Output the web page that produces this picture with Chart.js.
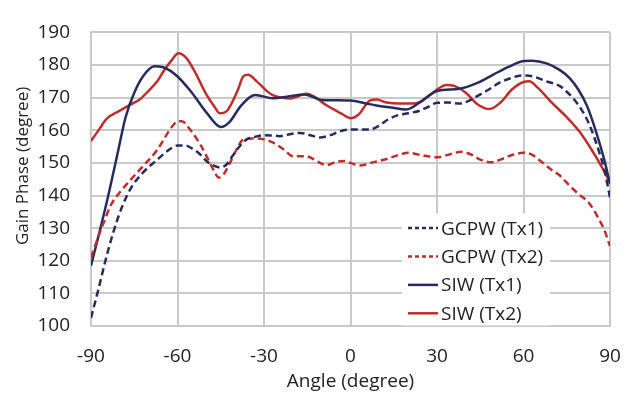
<!DOCTYPE html>
<html>
<head>
<meta charset="utf-8">
<script src="https://cdn.jsdelivr.net/npm/chart.js@4.4.1/dist/chart.umd.min.js"></script>
<style>
  html, body { margin: 0; padding: 0; background: #fff; }
  #wrap { width: 641px; height: 394px; }
</style>
</head>
<body>
<div id="wrap"><canvas id="phaseChart" width="641" height="394"></canvas></div>
<script>
// Angle (degree) / gain phase (degree) pairs
const gcpwTx1Angle = [-90, -87.5, -85, -82, -79, -76, -72, -67, -63, -60, -57, -55.7, -52, -49.9, -47, -45.3, -43, -41.8, -39, -36, -33, -30, -27, -24.5, -21, -17.5, -14, -10.6, -7, -3.6, 0, 6.7, 10, 13, 16, 20, 24, 27, 30, 34, 37.8, 41, 43.6, 48, 51.7, 55, 58.6, 61, 64.4, 68, 72.5, 75, 77.2, 80, 82.9, 86, 88, 90];
const gcpwTx1Phase = [102.5, 111, 120, 129.5, 137, 142.5, 147, 151, 154, 155.3, 155.3, 154.8, 152.5, 150.5, 149, 148.6, 149.5, 151, 154.5, 157.2, 158, 158.5, 158.4, 158.2, 158.8, 159.2, 158.5, 157.8, 158.5, 159.7, 160.2, 160.2, 161.5, 163.3, 164.5, 165.2, 166, 167.2, 168.4, 168.5, 168.2, 169, 170.3, 172.5, 174.6, 175.8, 176.7, 176.8, 176.2, 175, 173.6, 171.8, 169.8, 166.5, 161.6, 154, 148, 139.5];

const gcpwTx2Angle = [-90, -87, -85, -83.4, -80, -77.6, -73, -67.2, -62, -60, -58.5, -55.7, -52, -49.9, -47, -45.8, -44, -41.8, -39, -37.2, -34, -30, -26.8, -23, -19.8, -15.2, -11, -8.3, -5, -2, 0, 3.2, 7, 12.5, 17, 20, 24, 30, 34, 38.4, 42, 45, 48.8, 52, 56, 60, 63.2, 66, 70, 72.5, 76, 79, 82.9, 86, 88, 90];
const gcpwTx2Phase = [121, 128.5, 133, 136.6, 141, 143.5, 148, 153.8, 161, 162.7, 162.8, 160.3, 155.5, 152, 147, 145.5, 146.5, 150, 155, 157.2, 157.5, 157.2, 156.2, 154, 152, 152, 150.2, 149.3, 150.3, 150.6, 150, 149.2, 150, 151.2, 152.5, 153.1, 152.5, 151.7, 152.5, 153.4, 152.5, 151, 150.2, 151, 152.4, 153.1, 152.4, 150.5, 147.7, 146.2, 143, 140.5, 137.5, 133, 129.5, 124.5];

const siwTx1Angle = [-90, -87, -84, -81, -78, -75, -72, -68, -65, -60, -55, -50, -45, -42, -38, -33, -27, -22, -16, -10, -5, 0, 5, 9, 14, 19.4, 24, 30, 37.8, 44, 49.4, 55, 60, 63, 68, 72.5, 76, 79, 82, 85, 88, 90];
const siwTx1Phase = [118.5, 129, 140, 152, 164, 171.5, 176.5, 179.6, 179.3, 176.5, 171.5, 165.5, 161, 162.5, 167.5, 170.8, 169.8, 170.3, 171, 169.3, 169.2, 169.1, 168.3, 167.6, 167, 166.4, 168.5, 172, 172.7, 174.5, 177, 179.5, 181.2, 181.3, 180.5, 178.5, 176, 172.5, 167.5, 160, 151, 143.5];

const siwTx2Angle = [-90, -87, -84.6, -80, -76.5, -73, -70.7, -67, -64.9, -62, -59.7, -57, -54, -50, -47, -45.3, -43, -41.8, -39, -37.2, -35.5, -32.5, -29, -26.8, -24, -21, -18, -15.2, -12, -9.4, -5, -3, 0, 3, 6.7, 9, 12.5, 17, 22.8, 27, 30, 33.2, 36, 40, 44, 48.2, 52, 56, 60, 62, 65, 70, 75, 79.4, 84, 87, 90];
const siwTx2Phase = [156.7, 160.5, 163.5, 166, 167.8, 169.5, 171.5, 175, 178, 181.5, 183.6, 182.2, 178, 171, 167, 165.2, 165.8, 167.3, 172.5, 176.5, 177, 175, 172, 170.7, 170, 169.7, 170.5, 171.2, 170, 168.3, 166, 165, 163.7, 165, 169.1, 169.4, 168.5, 168.2, 168.3, 170.5, 172.5, 173.9, 173.6, 171.5, 168, 166.5, 168.5, 172.5, 174.8, 175, 173, 168.3, 164, 159.6, 153.5, 149, 144];

const seriesNames = ['GCPW (Tx1)', 'GCPW (Tx2)', 'SIW (Tx1)', 'SIW (Tx2)'];
const angleTicks = [-90, -60, -30, 0, 30, 60, 90];

const NAVY = '#272c5e';
const RED = '#be2f2c';
const GRID = '#c9c9c9';
const FONT = "'Open Sans', 'DejaVu Sans', sans-serif";

function toPoints(xs, ys) {
  return xs.map((x, i) => ({ x: x, y: ys[i] }));
}

// legend drawn inside the plot area on a white box, like the original
const insideLegend = {
  id: 'insideLegend',
  afterDraw: function(chart) {
    const ctx = chart.ctx;
    const area = chart.chartArea;
    const boxX = area.left + 311, boxY = area.top + 181;
    const boxW = 148, boxH = 112;
    ctx.save();
    ctx.fillStyle = '#fff';
    ctx.fillRect(boxX, boxY, boxW, boxH);
    ctx.font = '19px ' + FONT;
    ctx.textBaseline = 'middle';
    ctx.textAlign = 'left';
    chart.data.datasets.forEach((ds, i) => {
      const y = boxY + 14.7 + i * 28.4;
      ctx.beginPath();
      ctx.strokeStyle = ds.borderColor;
      ctx.lineWidth = 2.5;
      ctx.setLineDash(ds.borderDash && ds.borderDash.length ? [4, 3] : []);
      ctx.moveTo(boxX + 6, y);
      ctx.lineTo(boxX + 36, y);
      ctx.stroke();
      ctx.setLineDash([]);
      ctx.fillStyle = '#222';
      ctx.fillText(ds.label, boxX + 39, y + 1);
    });
    ctx.restore();
  }
};

const lineStyle = {
  fill: false,
  pointRadius: 0,
  borderWidth: 2.5,
  cubicInterpolationMode: 'monotone'
};

new Chart(document.getElementById('phaseChart').getContext('2d'), {
  type: 'line',
  data: {
    datasets: [
      Object.assign({ label: seriesNames[0], data: toPoints(gcpwTx1Angle, gcpwTx1Phase), borderColor: NAVY, borderDash: [7, 4] }, lineStyle),
      Object.assign({ label: seriesNames[1], data: toPoints(gcpwTx2Angle, gcpwTx2Phase), borderColor: RED, borderDash: [7, 4] }, lineStyle),
      Object.assign({ label: seriesNames[2], data: toPoints(siwTx1Angle, siwTx1Phase), borderColor: NAVY, borderDash: [] }, lineStyle),
      Object.assign({ label: seriesNames[3], data: toPoints(siwTx2Angle, siwTx2Phase), borderColor: RED, borderDash: [] }, lineStyle)
    ]
  },
  options: {
    responsive: false,
    animation: false,
    layout: { padding: { top: 15, right: 31, left: 0, bottom: 0 } },
    plugins: {
      legend: { display: false },
      tooltip: { enabled: false }
    },
    scales: {
      x: {
        type: 'linear',
        min: -90,
        max: 90,
        afterBuildTicks: function(scale) {
          scale.ticks = angleTicks.map(v => ({ value: v }));
        },
        afterFit: function(scale) { scale.height = 68; },
        grid: { color: GRID, lineWidth: 2, drawTicks: false },
        border: { color: GRID, width: 2 },
        ticks: { color: '#222', font: { family: FONT, size: 19 }, padding: 19, maxRotation: 0 },
        title: { display: true, text: 'Angle (degree)', color: '#222', font: { family: FONT, size: 19 }, padding: { top: 0, bottom: 1 } }
      },
      y: {
        min: 100,
        max: 190,
        afterFit: function(scale) { scale.width = 91; },
        grid: { color: GRID, lineWidth: 2, drawTicks: false },
        border: { color: GRID, width: 2 },
        ticks: { stepSize: 10, color: '#222', font: { family: FONT, size: 19 }, padding: 21 },
        // leading blanks nudge the rotated title up, as in the original
        title: { display: true, text: '\u00a0\u00a0\u00a0\u00a0\u00a0\u00a0Gain Phase (degree)', color: '#222', font: { family: FONT, size: 17 }, padding: { top: 13, bottom: 0 } }
      }
    }
  },
  plugins: [insideLegend]
});
</script>
</body>
</html>
